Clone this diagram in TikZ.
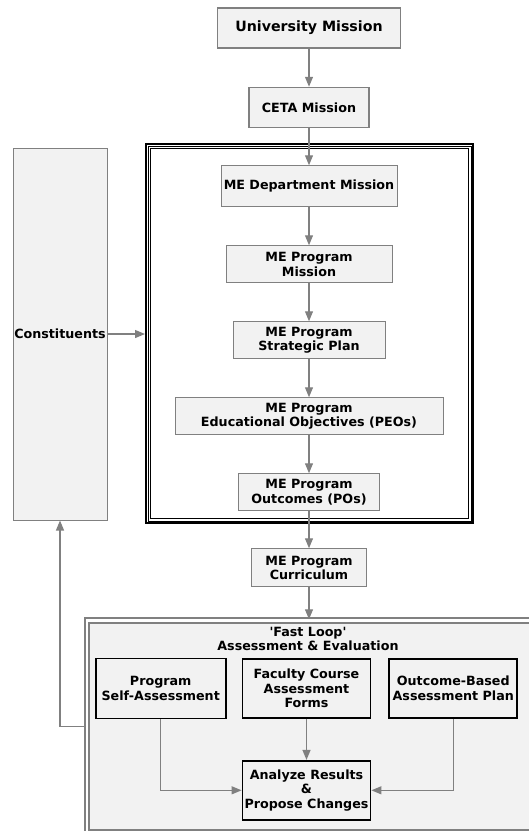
\documentclass[tikz,border=0pt]{standalone}
\usepackage{fontspec}
\setmainfont{DejaVu Sans}
\usetikzlibrary{arrows.meta, positioning}
\definecolor{boxfill}{HTML}{F2F2F2}
\definecolor{linegray}{HTML}{808080}

\begin{document}
\begin{tikzpicture}[
  x=1pt, y=1pt,
  font=\fontsize{12.7}{14.5}\selectfont\bfseries,
  box/.style={rectangle, draw=linegray, fill=boxfill, line width=1pt, inner sep=0pt, align=center},
  topbox/.style={box, line width=1.5pt},
  loopbox/.style={rectangle, draw=black, fill=boxfill, line width=1.8pt, inner sep=0pt, align=center, minimum width=128pt, minimum height=59pt},
  edge/.style={-{Triangle[length=10pt, width=8pt]}, draw=linegray, line width=1.2pt},
  node distance=38pt
]
\useasboundingbox (0,0) rectangle (529,-831);
\clip (0,0) rectangle (529,-831);

\node[topbox, minimum width=183pt, minimum height=40pt, font=\fontsize{14.2}{16}\selectfont\bfseries] (univ) at (309,-28) {University Mission};
\node[topbox, minimum width=120pt, minimum height=40pt, below=of univ] (ceta) {CETA Mission};
\node[box, minimum width=176pt, minimum height=41pt, below=37pt of ceta] (dept) {ME Department Mission};
\node[box, minimum width=166pt, minimum height=37pt, below=of dept] (mission) {ME Program\\Mission};
\node[box, minimum width=152pt, minimum height=37pt, below=of mission] (plan) {ME Program\\Strategic Plan};
\node[box, minimum width=268pt, minimum height=37pt, below=of plan] (peos) {ME Program\\Educational Objectives (PEOs)};
\node[box, minimum width=141pt, minimum height=37pt, below=of peos] (pos) {ME Program\\Outcomes (POs)};
\node[box, minimum width=115pt, minimum height=38pt, below=37pt of pos] (curr) {ME Program\\Curriculum};

\node[draw, line width=2pt, minimum width=327pt, minimum height=379pt, inner sep=0pt] (frame) at (309.5,-333.5) {};
\draw[line width=0.8pt] ([shift={(3pt,-3pt)}]frame.north west) rectangle ([shift={(-3pt,3pt)}]frame.south east);
\draw[line width=1.6pt] ([shift={(5.5pt,-5.5pt)}]frame.north west) rectangle ([shift={(-5.5pt,5.5pt)}]frame.south east);

\node[box, minimum width=94pt, minimum height=372pt] (cons) at (60,-334) {Constituents};

\node[draw=linegray, fill=boxfill, line width=2pt, double=white, double distance=2.5pt,
  minimum width=457.75pt, minimum height=212.25pt, inner sep=0pt] (fast) at (316.1,-726.4) {};
\node[align=center] (title) at (308,-639) {\textquotesingle Fast Loop\textquotesingle\\Assessment \& Evaluation};
\node[loopbox] (faculty) at (306.5,-688.5) {Faculty Course\\Assessment\\Forms};
\node[loopbox, minimum width=130pt, minimum height=60pt, left=15pt of faculty] (self) {Program\\Self-Assessment};
\node[loopbox, right=17pt of faculty] (outcome) {Outcome-Based\\Assessment Plan};
\node[loopbox, below=41pt of faculty] (analyze) {Analyze Results\\\&\\Propose Changes};

\draw[edge] (univ) -- (ceta);
\draw[edge] (ceta) -- (dept);
\draw[edge] (dept) -- (mission);
\draw[edge] (mission) -- (plan);
\draw[edge] (plan) -- (peos);
\draw[edge] (peos) -- (pos);
\draw[edge] (pos) -- (curr);
\draw[edge] (curr.south) -- (curr.south |- fast.north);
\draw[edge] (cons.east) -- (cons.east -| frame.west);
\draw[edge] (fast.west) -| (cons.south);
\draw[edge] (self.south) |- (analyze.west);
\draw[edge] (faculty) -- (analyze);
\draw[edge] (outcome.south) |- (analyze.east);
\end{tikzpicture}
\end{document}
